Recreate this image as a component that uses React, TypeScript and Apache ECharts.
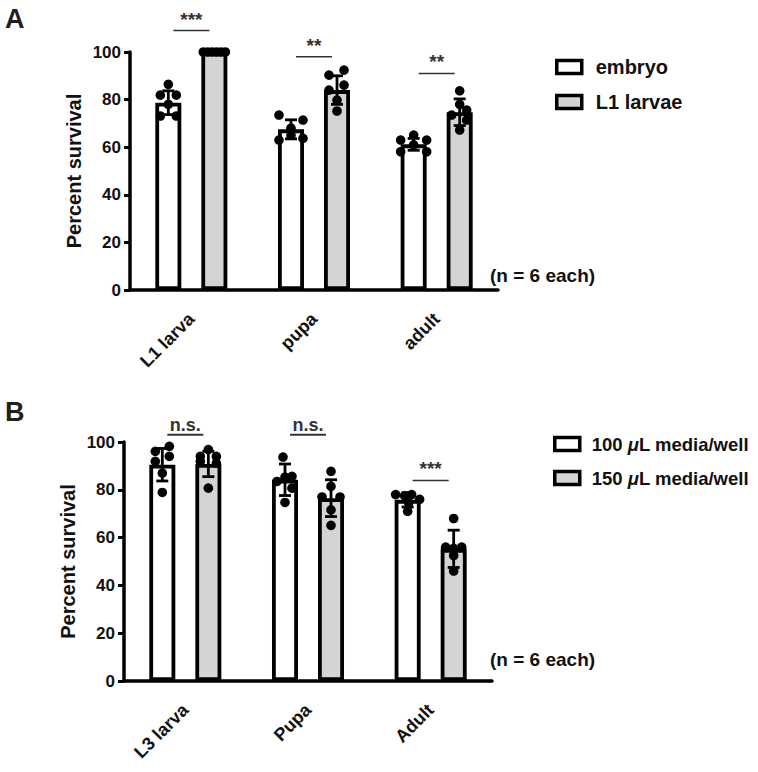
import React, { useEffect, useRef } from "react";
import * as echarts from "echarts";

const FONT = '"Liberation Sans", Arial, Helvetica, sans-serif';
const INK = "#111";

// ---------- Panel A data ----------
const CATS_A = ["L1 larva", "pupa", "adult"];
const SERIES_A = ["embryo", "L1 larvae"];
const EMBRYO_MEAN = [78.7, 67.5, 61.2];
const EMBRYO_SD = [5.0, 4.0, 2.5];
const LARVAE_MEAN = [100, 84.0, 74.7];
const LARVAE_SD = [0, 6.0, 5.6];
const EMBRYO_DOTS = [
  [86.4, 81.9, 81.9, 78, 73.1, 73.1],
  [73.5, 71.4, 68, 65, 63.7, 63],
  [65.1, 63, 63, 61, 58.1, 58.1],
];
const LARVAE_DOTS = [
  [100, 100, 100, 100, 100, 100],
  [92.4, 90.3, 86.1, 84, 79.8, 75.2],
  [83.7, 78, 75.6, 73.5, 71.4, 67.2],
];
const SIG_A_LEVEL = [109, 98, 91];
const SIG_A_TEXT = ["***", "**", "**"];

// ---------- Panel B data ----------
const CATS_B = ["L3 larva", "Pupa", "Adult"];
const SERIES_B = ["100 μL media/well", "150 μL media/well"];
const V100_MEAN = [90.5, 84.2, 75.8];
const V100_SD = [6.8, 6.6, 3.0];
const V150_MEAN = [90.8, 76.5, 55.3];
const V150_SD = [5.3, 7.7, 7.8];
const V100_DOTS = [
  [98.2, 96.1, 94, 91.9, 87, 78.9],
  [93.7, 85.6, 83.5, 85.3, 80.7, 74.7],
  [78, 77.5, 78, 76, 74.5, 71],
];
const V150_DOTS = [
  [96.8, 94, 94, 91.9, 91.2, 80.7],
  [87.7, 81.4, 77, 77, 71.6, 65.1],
  [68, 56, 55.5, 56, 52.5, 46],
];
const SIG_B_LEVEL = [103, 103, 83.9];
const SIG_B_TEXT = ["n.s.", "n.s.", "***"];

// ---------- style constants (dot spread in px) ----------
const SPREAD_A_EMB = [
  [0, -8, 8, 0, -8, 8],
  [-12, 12, 0, 0, 12, -12],
  [0, -13, 13, 0, -13, 13],
];
const SPREAD_A_LAR = [
  [-11, -6.6, -2.2, 2.2, 6.6, 11],
  [7, -8, 7, -8, 0, 0],
  [0, 0, 7, -8, 7, 0],
];
const SPREAD_B_100 = [
  [7, -7, 7, -7, 0, 0],
  [-2, 7, -8, 0, 7, 0],
  [-12, -3, 4, 12, 1, 0],
];
const SPREAD_B_150 = [
  [0, -8, 8, -8, 8, 0],
  [0, 0, -9, 9, 0, 0],
  [0, -8, 0, 8, 0, 0],
];

const BAR_W = 26;
const BAR_GAP = 0.77;
const SIDE_OFF = (BAR_W * (1 + BAR_GAP)) / 2;

function errorSeries(k: number, side: number, means: number[], sds: number[]) {
  return {
    type: "custom",
    xAxisIndex: k,
    yAxisIndex: k,
    z: 5,
    silent: true,
    data: means.map((m, i) => [i, m, sds[i]]),
    renderItem: (params: any, api: any) => {
      const i = api.value(0);
      const m = api.value(1);
      const sd = api.value(2);
      const c = api.coord([i, m]);
      const hi = api.coord([i, m + sd]);
      const lo = api.coord([i, m - sd]);
      const x = c[0] + side * SIDE_OFF;
      const st = { stroke: "#000", lineWidth: 2.8 };
      return {
        type: "group",
        children: [
          { type: "line", shape: { x1: x, y1: hi[1], x2: x, y2: lo[1] }, style: st },
          { type: "line", shape: { x1: x - 6, y1: hi[1], x2: x + 6, y2: hi[1] }, style: st },
          { type: "line", shape: { x1: x - 6, y1: lo[1], x2: x + 6, y2: lo[1] }, style: st },
        ],
      };
    },
  };
}

function dotSeries(k: number, side: number, dots: number[][], spread: number[][]) {
  const data: number[][] = [];
  dots.forEach((grp, i) => grp.forEach((v, j) => data.push([i, v, spread[i][j]])));
  return {
    type: "custom",
    xAxisIndex: k,
    yAxisIndex: k,
    z: 6,
    silent: true,
    data,
    renderItem: (params: any, api: any) => {
      const c = api.coord([api.value(0), api.value(1)]);
      return {
        type: "circle",
        shape: { cx: c[0] + side * SIDE_OFF + api.value(2), cy: c[1], r: 4.8 },
        style: { fill: "#000" },
      };
    },
  };
}

function sigSeries(k: number, levels: number[], texts: string[]) {
  return {
    type: "custom",
    xAxisIndex: k,
    yAxisIndex: k,
    z: 6,
    silent: true,
    clip: false,
    data: levels.map((y, i) => [i, y]),
    renderItem: (params: any, api: any) => {
      const c = api.coord([api.value(0), api.value(1)]);
      const t = texts[params.dataIndex];
      const ns = t === "n.s.";
      return {
        type: "group",
        children: [
          {
            type: "line",
            shape: { x1: c[0] - 18, y1: c[1], x2: c[0] + 18, y2: c[1] },
            style: { stroke: "#333", lineWidth: ns ? 2 : 1.5 },
          },
          {
            type: "text",
            x: c[0],
            y: c[1] - (ns ? 1 : 2),
            style: {
              text: t,
              fill: "#333",
              font: `bold ${ns ? 18 : 19}px ${FONT}`,
              align: "center",
              verticalAlign: "bottom",
            },
          },
        ],
      };
    },
  };
}

function barSeries(k: number, name: string, data: number[], fill: string) {
  return {
    type: "bar",
    name,
    xAxisIndex: k,
    yAxisIndex: k,
    data,
    barWidth: BAR_W,
    barGap: `${BAR_GAP * 100}%`,
    z: 2,
    silent: true,
    itemStyle: { color: fill, borderColor: "#000", borderWidth: 3.8 },
  };
}

function xAxis(k: number, cats: string[]) {
  return {
    type: "category",
    gridIndex: k,
    data: cats,
    axisLine: { lineStyle: { color: "#000", width: 3.5 } },
    axisTick: { alignWithLabel: true, length: 6, lineStyle: { color: "#000", width: 3 } },
    axisLabel: {
      rotate: 45,
      margin: 26,
      color: INK,
      fontFamily: FONT,
      fontWeight: "bold",
      fontSize: 18,
    },
    splitLine: { show: false },
  };
}

function yAxis(k: number) {
  return {
    type: "value",
    gridIndex: k,
    min: 0,
    max: 100,
    interval: 20,
    name: "Percent survival",
    nameLocation: "middle",
    nameGap: 46,
    nameTextStyle: { color: INK, fontFamily: FONT, fontWeight: "bold", fontSize: 20 },
    axisLine: { show: true, lineStyle: { color: "#000", width: 3.5 } },
    axisTick: { show: true, length: 6, lineStyle: { color: "#000", width: 3 } },
    axisLabel: {
      margin: 9,
      color: INK,
      fontFamily: FONT,
      fontWeight: "bold",
      fontSize: 17,
    },
    splitLine: { show: false },
  };
}

const legendText = { color: INK, fontFamily: FONT, fontWeight: "bold", fontSize: 20 };
const legendTextB = { ...legendText, fontSize: 18.5 };

export default function App() {
  const ref = useRef<HTMLDivElement>(null);
  useEffect(() => {
    if (!ref.current) return;
    const chart = echarts.init(ref.current, undefined, { renderer: "svg" });
    chart.setOption({
      animation: false,
      backgroundColor: "#fff",
      grid: [
        { left: 130, top: 52, width: 368, height: 238 },
        { left: 124, top: 442, width: 368, height: 239 },
      ],
      xAxis: [xAxis(0, CATS_A), xAxis(1, CATS_B)],
      yAxis: [yAxis(0), yAxis(1)],
      legend: [
        {
          data: SERIES_A,
          orient: "vertical",
          left: 550,
          top: 51,
          icon: "rect",
          itemWidth: 25,
          itemHeight: 13,
          itemGap: 13,
          selectedMode: false,
          textStyle: { ...legendText, lineHeight: 22, padding: [0, 0, 0, 9] },
          itemStyle: { borderColor: "#000", borderWidth: 3.5 },
        },
        {
          data: SERIES_B,
          orient: "vertical",
          left: 548,
          top: 428,
          icon: "rect",
          itemWidth: 25,
          itemHeight: 13,
          itemGap: 12,
          selectedMode: false,
          itemStyle: { borderColor: "#000", borderWidth: 3.5 },
          formatter: (n: string) => n.replace("μ", "{i|μ}"),
          textStyle: {
            ...legendTextB,
            lineHeight: 22,
            padding: [0, 0, 0, 7],
            rich: { i: { ...legendTextB, fontStyle: "italic" } },
          },
        },
      ],
      graphic: [
        { type: "text", left: 5, top: 5, style: { text: "A", font: `bold 27px ${FONT}`, fill: "#231f20" } },
        { type: "text", left: 5, top: 398, style: { text: "B", font: `bold 27px ${FONT}`, fill: "#231f20" } },
        { type: "text", left: 490, top: 266, style: { text: "(n = 6 each)", font: `bold 19px ${FONT}`, fill: INK } },
        { type: "text", left: 490, top: 650, style: { text: "(n = 6 each)", font: `bold 19px ${FONT}`, fill: INK } },
      ],
      series: [
        barSeries(0, SERIES_A[0], EMBRYO_MEAN, "#ffffff"),
        barSeries(0, SERIES_A[1], LARVAE_MEAN, "#d4d4d4"),
        errorSeries(0, -1, EMBRYO_MEAN, EMBRYO_SD),
        errorSeries(0, 1, LARVAE_MEAN, LARVAE_SD),
        dotSeries(0, -1, EMBRYO_DOTS, SPREAD_A_EMB),
        dotSeries(0, 1, LARVAE_DOTS, SPREAD_A_LAR),
        sigSeries(0, SIG_A_LEVEL, SIG_A_TEXT),
        barSeries(1, SERIES_B[0], V100_MEAN, "#ffffff"),
        barSeries(1, SERIES_B[1], V150_MEAN, "#d4d4d4"),
        errorSeries(1, -1, V100_MEAN, V100_SD),
        errorSeries(1, 1, V150_MEAN, V150_SD),
        dotSeries(1, -1, V100_DOTS, SPREAD_B_100),
        dotSeries(1, 1, V150_DOTS, SPREAD_B_150),
        sigSeries(1, SIG_B_LEVEL, SIG_B_TEXT),
      ],
    });
    return () => chart.dispose();
  }, []);
  return (
    <div
      ref={ref}
      style={{ position: "absolute", left: 0, top: 0, width: 758, height: 772, background: "#fff" }}
    />
  );
}
